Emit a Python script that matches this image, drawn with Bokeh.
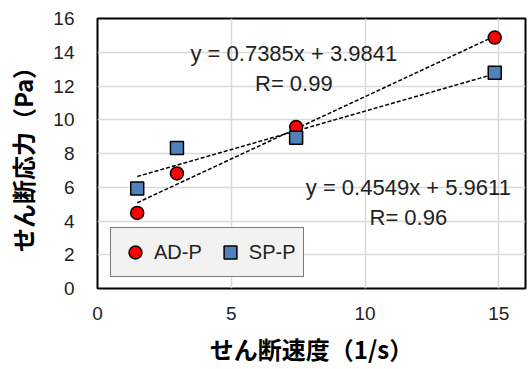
from bokeh.plotting import figure
from bokeh.models import Range1d, FixedTicker, Label, Legend, LegendItem
from bokeh.embed import file_html
from bokeh.resources import INLINE

# ---- data ----
shear_rate = [1.485, 2.97, 7.425, 14.85]
ad_p = [4.48, 6.82, 9.57, 14.87]
sp_p = [5.92, 8.32, 8.93, 12.78]
ad_slope, ad_intercept, ad_r = 0.7385, 3.9841, 0.99
sp_slope, sp_intercept, sp_r = 0.4549, 5.9611, 0.96
x_ticks = [0, 5, 10, 15]
y_ticks = [0, 2, 4, 6, 8, 10, 12, 14, 16]
x_title = "せん断速度（1/s）"
y_title = "せん断応力（Pa）"

TICK_FONT = "Liberation Sans"
CJK_FONT = "Noto Sans CJK JP"

p = figure(width=531, height=369, output_backend="svg", toolbar_location=None,
           x_range=Range1d(0, 16), y_range=Range1d(0, 16),
           min_border_left=97, min_border_right=6, min_border_top=18, min_border_bottom=81)

p.background_fill_color = "white"
p.border_fill_color = "white"
p.outline_line_color = "black"
p.outline_line_width = 2

for ax, ticks in ((p.xaxis[0], x_ticks), (p.yaxis[0], y_ticks)):
    ax.ticker = FixedTicker(ticks=ticks)
    ax.axis_line_color = None
    ax.major_tick_line_color = None
    ax.minor_tick_line_color = None
    ax.major_tick_out = 0
    ax.major_tick_in = 0
    ax.minor_tick_out = 0
    ax.major_label_text_font = TICK_FONT
    ax.major_label_text_font_size = "19px"
    ax.major_label_text_color = "#222222"
    ax.axis_label_text_font = CJK_FONT
    ax.axis_label_text_font_size = "24px"
    ax.axis_label_text_font_style = "bold"
    ax.axis_label_text_color = "black"

p.xaxis.axis_label = x_title
p.yaxis.axis_label = y_title
p.xaxis.major_label_standoff = 18
p.xaxis.axis_label_standoff = 8
p.yaxis.major_label_standoff = 23
p.yaxis.axis_label_standoff = 10

p.xgrid.ticker = FixedTicker(ticks=x_ticks)
p.ygrid.ticker = FixedTicker(ticks=y_ticks)
p.grid.grid_line_color = "#d9d9d9"
p.grid.grid_line_width = 1.5

# trendlines
x_fit = [shear_rate[0], shear_rate[-1]]
p.line(x_fit, [ad_slope * v + ad_intercept for v in x_fit], line_color="black",
       line_width=1.5, line_dash="4 2")
p.line(x_fit, [sp_slope * v + sp_intercept for v in x_fit], line_color="black",
       line_width=1.5, line_dash="4 2")

r_ad = p.scatter(shear_rate, ad_p, marker="circle", size=13, fill_color="#ff0000",
                 line_color="black", line_width=1.5)
r_sp = p.scatter(shear_rate, sp_p, marker="square", size=13, fill_color="#4f81bd",
                 line_color="black", line_width=1.5)

legend = Legend(items=[LegendItem(label="AD-P", renderers=[r_ad]),
                       LegendItem(label="SP-P", renderers=[r_sp])],
                orientation="horizontal", location=(13, 11))
legend.background_fill_color = "#f2f2f2"
legend.background_fill_alpha = 1
legend.border_line_color = "black"
legend.border_line_width = 1.5
legend.padding = 8
legend.margin = 0
legend.spacing = 12
legend.glyph_width = 32
legend.glyph_height = 32
legend.label_height = 20
legend.label_standoff = 3
legend.label_text_font = TICK_FONT
legend.label_text_font_size = "20px"
legend.label_text_color = "#222222"
p.add_layout(legend, "center")

def add_label(x, y, text):
    p.add_layout(Label(x=x, y=y, text=text, text_align="center", text_baseline="middle",
                       text_font=TICK_FONT, text_font_size="22px", text_color="#222222"))

add_label(7.34, 13.93, f"y = {ad_slope:.4f}x + {ad_intercept:.4f}")
add_label(7.34, 12.15, f"R= {ad_r:.2f}")
add_label(11.62, 5.96, f"y = {sp_slope:.4f}x + {sp_intercept:.4f}")
add_label(11.62, 4.18, f"R= {sp_r:.2f}")

open("out.html", "w").write(file_html(p, INLINE))
